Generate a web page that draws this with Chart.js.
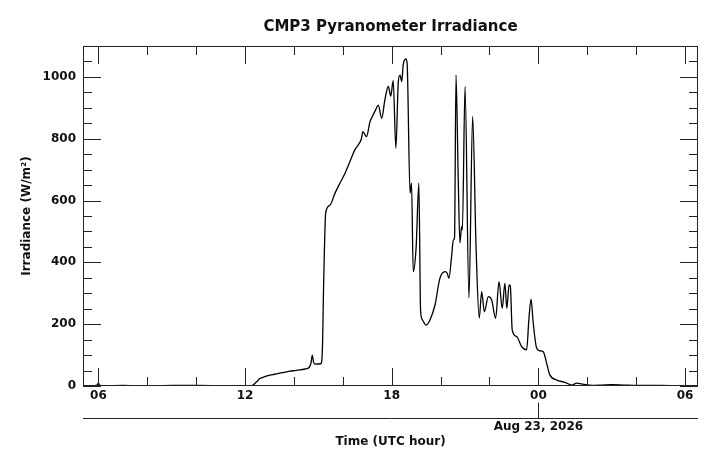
<!DOCTYPE html>
<html>
<head>
<meta charset="utf-8">
<title>CMP3 Pyranometer Irradiance</title>
<script src="https://cdn.jsdelivr.net/npm/chart.js@4"></script>
<style>
  html, body { margin: 0; padding: 0; background: #fff; }
  #wrap { width: 720px; height: 467px; position: relative; }
</style>
</head>
<body>
<div id="wrap"><canvas id="irradiancia"></canvas></div>
<script>
// Datos (hora UTC continua: 24 = 00 del 23 de agosto)
const horas = [
  5.40, 5.70, 5.95, 6.00, 6.05, 6.30, 7.00, 8.00, 9.00, 10.00, 11.00, 12.00,
  12.27, 12.45, 12.61, 12.80, 13.02, 13.20, 13.43, 13.60, 13.84, 14.05, 14.24, 14.45,
  14.62, 14.70, 14.75, 14.80, 14.86, 15.10, 15.16, 15.22, 15.30, 15.47, 15.68, 15.88,
  16.09, 16.29, 16.49, 16.63, 16.76, 16.82, 16.97, 17.11, 17.24, 17.35, 17.45, 17.59,
  17.72, 17.86, 17.96, 18.06, 18.17, 18.27, 18.34, 18.41, 18.47, 18.58, 18.63, 18.75,
  18.81, 18.88, 19.00, 19.11, 19.18, 19.25, 19.40, 19.56, 19.77, 19.97, 20.18, 20.27,
  20.34, 20.45, 20.52, 20.57, 20.63, 20.72, 20.79, 20.86, 20.89, 21.00, 21.16, 21.31,
  21.45, 21.58, 21.68, 21.79, 21.95, 22.09, 22.25, 22.39, 22.52, 22.63, 22.71, 22.80,
  22.85, 22.93, 23.11, 23.32, 23.52, 23.61, 23.70, 23.79, 23.93, 24.06, 24.20, 24.34,
  24.47, 24.75, 25.09, 25.36, 25.57, 25.86, 26.20, 26.60, 27.00, 27.50, 28.00, 29.00,
  30.00, 30.50
];
const irradiancia = [
  1, 1, 3, 10, 2, 1, 2, 0, 2, 2, 1, 0,
  1, 12, 24, 30, 35, 38, 42, 44, 48, 50, 52, 55,
  60, 75, 100, 78, 71, 72, 110, 350, 561, 585, 624, 656,
  688, 726, 764, 780, 800, 823, 807, 855, 877, 895, 909, 866,
  926, 969, 938, 988, 769, 985, 1006, 985, 1039, 1058, 1044, 624,
  656, 370, 451, 656, 246, 215, 197, 213, 262, 348, 370, 365,
  348, 420, 472, 480, 1006, 673, 463, 516, 505, 969, 284, 872,
  450, 220, 305, 240, 289, 278, 219, 338, 251, 332, 251, 327,
  324, 181, 160, 127, 117, 214, 281, 203, 122, 114, 111, 73,
  36, 19, 12, 3, 9, 5, 2, 3, 4, 3, 2, 2,
  1, 1
];

// Marcas del eje
const horasEtiqueta = [6, 12, 18, 24, 30];
const textosHora = ['06', '12', '18', '00', '06'];
const marcasY = [0, 200, 400, 600, 800, 1000];
const fechaHora = [24];
const textoFecha = ['Aug 23, 2026'];

Chart.defaults.font.family = "'DejaVu Sans', sans-serif";
Chart.defaults.font.weight = 'bold';
Chart.defaults.font.size = 12;
Chart.defaults.color = '#111';

// Marco, marcas internas y eje secundario de fecha
const marco = {
  id: 'marco',
  afterDatasetsDraw(chart) {
    const { ctx, chartArea: a, scales: { x, y, x2 } } = chart;
    ctx.save();
    ctx.strokeStyle = '#222';
    ctx.lineWidth = 1;
    ctx.strokeRect(a.left + 0.5, a.top + 0.5, a.width - 1, a.height - 1);
    ctx.beginPath();
    for (let h = 6; h <= 30; h += 2) {
      const px = Math.round(x.getPixelForValue(h)) + 0.5;
      const largo = h % 6 === 0 ? 18 : 9;
      ctx.moveTo(px, a.bottom); ctx.lineTo(px, a.bottom - largo);
      ctx.moveTo(px, a.top); ctx.lineTo(px, a.top + largo);
    }
    for (let v = 0; v <= 1100; v += 50) {
      const py = Math.round(y.getPixelForValue(v)) + 0.5;
      const largo = v % 200 === 0 ? 18 : 9;
      ctx.moveTo(a.left, py); ctx.lineTo(a.left + largo, py);
      ctx.moveTo(a.right, py); ctx.lineTo(a.right - largo, py);
    }
    const ly = Math.round(x2.top) + 0.5;
    ctx.moveTo(a.left, ly); ctx.lineTo(a.right, ly);
    const dx = Math.round(x2.getPixelForValue(fechaHora[0])) + 0.5;
    ctx.moveTo(dx, ly); ctx.lineTo(dx, ly - 16);
    ctx.stroke();
    ctx.restore();
  }
};

const ctx = document.getElementById('irradiancia').getContext('2d');
const grafico = new Chart(ctx, {
  type: 'line',
  data: {
    datasets: [{
      label: 'CMP3',
      data: horas.map((h, i) => ({ x: h, y: irradiancia[i] })),
      borderColor: '#000',
      borderWidth: 1.3,
      pointRadius: 0,
      cubicInterpolationMode: 'monotone',
      fill: false
    }]
  },
  options: {
    responsive: true,
    maintainAspectRatio: false,
    animation: false,
    layout: { padding: { left: 0, right: 22, top: 0, bottom: 0 } },
    plugins: {
      legend: { display: false },
      tooltip: { enabled: false },
      title: {
        display: true,
        text: 'CMP3 Pyranometer Irradiance',
        fullSize: false,
        font: { size: 15, weight: 'bold' },
        color: '#111',
        padding: { top: 18, bottom: 10 }
      }
    },
    scales: {
      x: {
        type: 'linear',
        min: 5.37,
        max: 30.53,
        weight: 0,
        grid: { display: false, drawTicks: false },
        border: { display: false },
        afterBuildTicks: s => { s.ticks = horasEtiqueta.map(v => ({ value: v })); },
        afterFit: s => { s.height = 32; },
        ticks: {
          padding: 3,
          maxRotation: 0,
          autoSkip: false,
          callback: (v, i) => textosHora[i]
        }
      },
      x2: {
        type: 'linear',
        position: 'bottom',
        min: 5.37,
        max: 30.53,
        weight: 1,
        grid: { display: false, drawTicks: false },
        border: { display: false },
        afterBuildTicks: s => { s.ticks = fechaHora.map(v => ({ value: v })); },
        afterFit: s => { s.height = 49; },
        ticks: {
          padding: 2,
          maxRotation: 0,
          autoSkip: false,
          callback: (v, i) => textoFecha[i]
        },
        title: {
          display: true,
          text: 'Time (UTC hour)',
          font: { size: 12, weight: 'bold' },
          padding: { top: 0, bottom: 18 }
        }
      },
      y: {
        min: 0,
        max: 1100,
        grid: { display: false, drawTicks: false },
        border: { display: false },
        afterBuildTicks: s => { s.ticks = marcasY.map(v => ({ value: v })); },
        afterFit: s => { s.width = 83; },
        ticks: {
          padding: 7,
          callback: v => String(v)
        },
        title: {
          display: true,
          text: 'Irradiance (W/m²)',
          font: { size: 12, weight: 'bold' },
          padding: { top: 20, bottom: 0 }
        }
      }
    }
  },
  plugins: [marco]
});
</script>
</body>
</html>
